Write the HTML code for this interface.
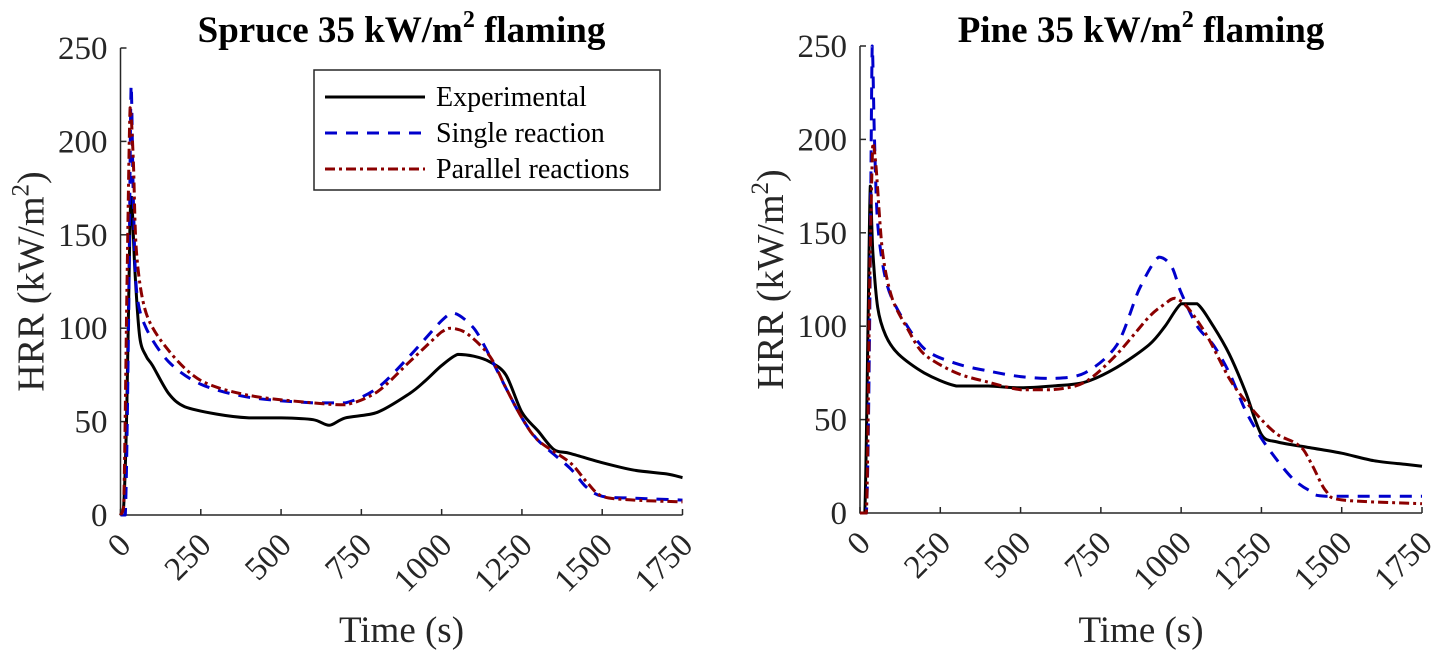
<!DOCTYPE html>
<html><head><meta charset="utf-8"><style>
body{margin:0;background:#fff;}
svg{display:block;}
text{font-family:"Liberation Serif",serif;}
</style></head><body>
<svg id="c" width="1439" height="650"></svg>
<script>
const ticksX=[0,250,500,750,1000,1250,1500,1750];
const ticksY=[0,50,100,150,200,250];
const seriesNames=["Experimental","Single reaction","Parallel reactions"];
const spruceExpT=[0,10,20,30,35,45,60,80,100,150,200,300,400,500,600,650,700,800,900,950,1000,1050,1100,1150,1200,1250,1300,1350,1400,1500,1600,1700,1750];
const spruceExpV=[0,5,60,160,170,130,95,85,80,65,58,54,52,52,51,48,52,55,65,72,80,86,85,82,75,55,45,35,33,28,24,22,20];
const spruceSingleT=[0,15,25,33,40,50,80,150,250,400,600,700,800,900,1000,1040,1100,1150,1200,1250,1300,1400,1450,1500,1600,1750];
const spruceSingleV=[0,0,100,230,170,120,100,82,70,63,60,60,68,85,104,108,100,85,68,52,40,25,15,10,9,8];
const spruceParT=[0,10,20,30,40,50,80,150,250,400,600,700,800,900,1000,1030,1080,1150,1200,1250,1300,1400,1450,1500,1600,1750];
const spruceParV=[0,5,120,218,190,140,108,88,72,64,60,59,66,82,98,100,97,85,68,52,40,28,18,10,8,7];
const pineExpT=[0,15,25,32,40,55,80,120,200,300,400,500,600,700,800,900,950,1000,1050,1100,1150,1200,1250,1300,1400,1500,1600,1700,1750];
const pineExpV=[0,0,100,175,140,110,95,85,75,68,68,67,68,70,78,90,100,112,112,100,85,65,42,38,35,32,28,26,25];
const pineSingleT=[0,20,30,38,45,55,80,120,200,300,400,500,600,700,800,870,930,970,1000,1050,1100,1150,1200,1250,1300,1350,1400,1450,1750];
const pineSingleV=[0,0,100,250,200,155,125,108,88,80,76,73,72,75,90,120,137,132,118,100,90,75,55,40,28,18,12,9,9];
const pineParT=[0,20,30,40,50,70,100,150,200,300,400,500,600,700,800,900,950,980,1020,1080,1150,1200,1250,1300,1350,1380,1410,1450,1500,1750];
const pineParV=[0,0,120,198,185,140,115,98,85,75,70,66,66,70,85,105,112,115,110,95,72,60,50,42,38,34,25,12,7,5];

const NS="http://www.w3.org/2000/svg";
const svg=document.getElementById('c');
function mk(tag,at,parent){const e=document.createElementNS(NS,tag);for(const k in at)e.setAttribute(k,at[k]);(parent||svg).appendChild(e);return e;}
const styles=[{stroke:"#000",dash:"",w:3},{stroke:"#0000cc",dash:"12,9",w:3},{stroke:"#8b0000",dash:"10,4,3,4",w:3}];
const FF='"Liberation Serif", serif';

function smooth(pts){
  let d='M'+pts[0][0].toFixed(1)+','+pts[0][1].toFixed(1);
  const cl=(v,a,b)=>Math.max(Math.min(a,b),Math.min(Math.max(a,b),v));
  for(let i=0;i<pts.length-1;i++){
    const p0=pts[Math.max(0,i-1)],p1=pts[i],p2=pts[i+1],p3=pts[Math.min(pts.length-1,i+2)];
    const k=0.15;
    const c1=[p1[0]+(p2[0]-p0[0])*k,cl(p1[1]+(p2[1]-p0[1])*k,p1[1],p2[1])];
    const c2=[p2[0]-(p3[0]-p1[0])*k,cl(p2[1]-(p3[1]-p1[1])*k,p1[1],p2[1])];
    d+=`C${c1[0].toFixed(1)},${c1[1].toFixed(1)} ${c2[0].toFixed(1)},${c2[1].toFixed(1)} ${p2[0].toFixed(1)},${p2[1].toFixed(1)}`;
  }
  return d;
}

function panel(id,x0,x1,y0,y1,title,sets,legend){
  const g=mk('g',{});
  
  
  const sx=v=>x0+(v/1750)*(x1-x0), sy=v=>y0-(v/250)*(y0-y1);
  const ax=mk('path',{d:`M${x0},${y1}V${y0}H${x1}`,stroke:"#262626","stroke-width":1.5,fill:"none"},g);
  
  ticksX.forEach(t=>{
    mk('line',{x1:sx(t),x2:sx(t),y1:y0,y2:y0-6,stroke:"#262626","stroke-width":1.5},g);
    const tx=mk('text',{x:0,y:0,"font-size":33,"font-family":FF,"text-anchor":"end",transform:`translate(${sx(t)+12},${y0+32}) rotate(-45)`,fill:"#262626"},g);
    tx.textContent=t;
    
  });
  ticksY.forEach(t=>{
    mk('line',{x1:x0,x2:x0+6,y1:sy(t),y2:sy(t),stroke:"#262626","stroke-width":1.5},g);
    const tx=mk('text',{x:x0-13,y:sy(t)+11,"font-size":33,"font-family":FF,"text-anchor":"end",fill:"#262626"},g);
    tx.textContent=t;
    
  });
  sets.forEach((s,i)=>{
    const pts=s[0].map((t,j)=>[sx(t),sy(s[1][j])]);
    const p=mk('path',{d:smooth(pts),fill:"none",stroke:styles[i].stroke,"stroke-width":styles[i].w,"stroke-dasharray":styles[i].dash,"stroke-linejoin":"round"},g);
    
    
  });
  const tt=mk('text',{x:(x0+x1)/2,y:42,"font-size":37,"font-family":FF,"font-weight":"bold","text-anchor":"middle"},g);
  tt.innerHTML=title+' 35 kW/m<tspan dy="-15" font-size="24">2</tspan><tspan dy="15"> flaming</tspan>';
  
  const yl=mk('text',{"font-size":38,"font-family":FF,"text-anchor":"middle",transform:`translate(${x0-77},${(y0+y1)/2}) rotate(-90)`,fill:"#262626"},g);
  yl.innerHTML='HRR (kW/m<tspan dy="-15" font-size="25">2</tspan><tspan dy="15">)</tspan>';
  
  const xl=mk('text',{x:(x0+x1)/2,y:642,"font-size":37,"font-family":FF,"text-anchor":"middle",fill:"#262626"},g);
  xl.textContent='Time (s)';
  
  if(legend){
    const lg=mk('g',{},g);
    
    mk('rect',{x:314,y:70,width:346,height:120,fill:"#fff",stroke:"#262626","stroke-width":1.5},lg);
    seriesNames.forEach((n,i)=>{
      const yy=97+i*36;
      mk('line',{x1:325,x2:425,y1:yy,y2:yy,stroke:styles[i].stroke,"stroke-width":3,"stroke-dasharray":styles[i].dash},lg);
      const t=mk('text',{x:436,y:yy+9,"font-size":28,"font-family":FF},lg);
      t.textContent=n;
      
    });
  }
}
panel('spruce',120.5,682.5,515,48,'Spruce',[[spruceExpT,spruceExpV],[spruceSingleT,spruceSingleV],[spruceParT,spruceParV]],true);
panel('pine',860,1422,513,46,'Pine',[[pineExpT,pineExpV],[pineSingleT,pineSingleV],[pineParT,pineParV]],false);
</script>
</body></html>
